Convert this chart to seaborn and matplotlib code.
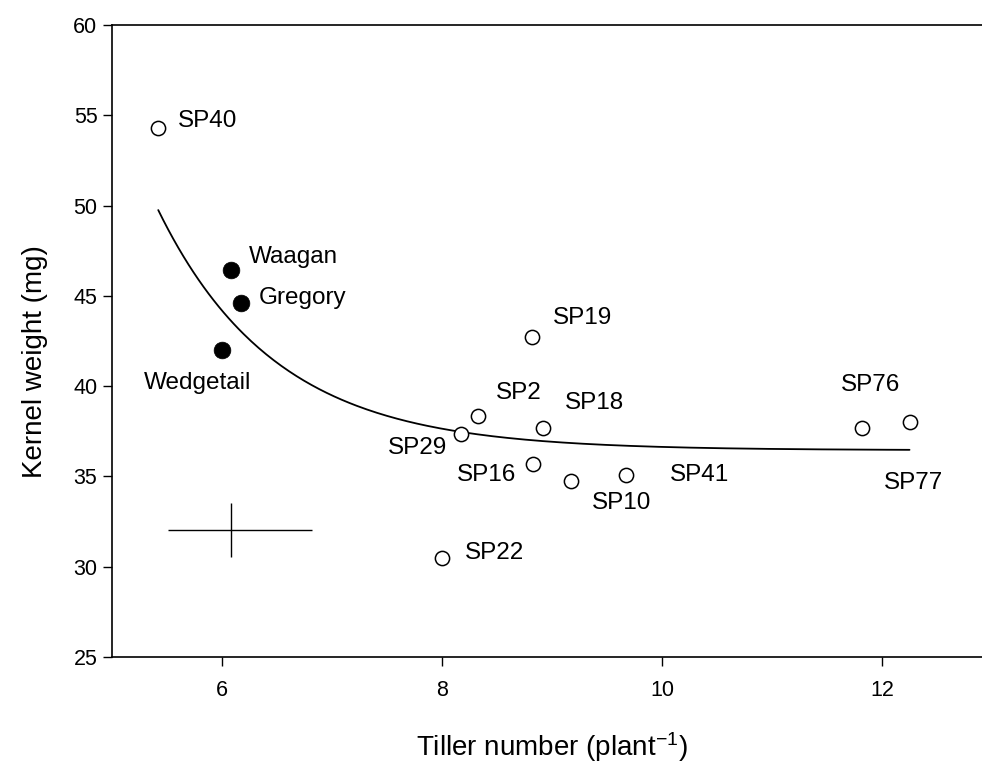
import numpy as np
import pandas as pd
import matplotlib
matplotlib.use("Agg")
import matplotlib.pyplot as plt
import seaborn as sns

# ---- data ----
lines_names = ["SP40", "SP19", "SP2", "SP29", "SP18", "SP16", "SP10", "SP41", "SP22", "SP76", "SP77"]
lines_x = [5.42, 8.82, 8.33, 8.17, 8.92, 8.83, 9.17, 9.67, 8.00, 11.82, 12.25]
lines_y = [54.3, 42.74, 38.35, 37.35, 37.66, 35.67, 34.75, 35.06, 30.5, 37.68, 38.01]

cultivar_names = ["Waagan", "Gregory", "Wedgetail"]
cultivar_x = [6.08, 6.17, 6.00]
cultivar_y = [46.41, 44.62, 42.02]

# label offsets (pixels) of each label relative to its point (left edge, vertical centre)
lines_offsets = [(20, 7), (21, 19), (18, 23), (-73, -14), (22, 25), (-76, -11),
                 (21, -22), (44, 0), (23, 5), (-21, 43), (-26, -61)]
cultivar_offsets = [(18, 13), (18, 5), (-78, -33)]

# fitted exponential decay curve y = a + b*exp(-c*x)
fit_a, fit_b, fit_c = 36.45, 2112.0, 0.935
fit_xmin, fit_xmax = 5.42, 12.25

# pooled error cross position and extents
err_x, err_y = 6.08, 32.05
err_xleft, err_xright = 0.57, 0.74
err_yhalf = 1.5

x_ticks = [6, 8, 10, 12]
y_ticks = [25, 30, 35, 40, 45, 50, 55, 60]

# ---- styling ----
sns.set_theme(style="ticks")
plt.rcParams["font.family"] = ["Liberation Sans", "DejaVu Sans"]
plt.rcParams["mathtext.default"] = "regular"

fig = plt.figure(figsize=(9.82, 7.63), dpi=100)
ax = fig.add_axes([0.1141, 0.1389, 0.8961, 0.8284])

df_lines = pd.DataFrame({"x": lines_x, "y": lines_y, "name": lines_names})
df_cult = pd.DataFrame({"x": cultivar_x, "y": cultivar_y, "name": cultivar_names})

xc = np.linspace(fit_xmin, fit_xmax, 300)
df_fit = pd.DataFrame({"x": xc, "y": fit_a + fit_b * np.exp(-fit_c * xc)})
sns.lineplot(data=df_fit, x="x", y="y", ax=ax, color="black", linewidth=1.3, zorder=2)

sns.scatterplot(data=df_lines, x="x", y="y", ax=ax, s=105, marker="o",
                facecolor="white", edgecolor="black", linewidth=1.1, zorder=3)
sns.scatterplot(data=df_cult, x="x", y="y", ax=ax, s=145, marker="o",
                color="black", edgecolor="black", linewidth=0.5, zorder=3)

ax.errorbar([err_x], [err_y], xerr=[[err_xleft], [err_xright]], yerr=[err_yhalf],
            fmt="none", ecolor="black", elinewidth=1.0, capsize=0)

for n, x, y, (dx, dy) in zip(lines_names, lines_x, lines_y, lines_offsets):
    ax.annotate(n, (x, y), xytext=(dx, dy), textcoords="offset pixels",
                ha="left", va="center", fontsize=17.5, color="black")
for n, x, y, (dx, dy) in zip(cultivar_names, cultivar_x, cultivar_y, cultivar_offsets):
    ax.annotate(n, (x, y), xytext=(dx, dy), textcoords="offset pixels",
                ha="left", va="center", fontsize=17.5, color="black")

ax.set_xlim(5, 13)
ax.set_ylim(25, 60)
ax.set_xticks(x_ticks)
ax.set_yticks(y_ticks)
ax.tick_params(direction="out", length=6.5, width=1.0, labelsize=15.5, color="black",
               labelcolor="black")
ax.tick_params(axis="x", pad=10)
ax.tick_params(axis="y", pad=4)
for s in ax.spines.values():
    s.set_color("black")
    s.set_linewidth(1.2)
ax.spines["right"].set_visible(False)

ax.set_xlabel("Tiller number (plant$^{-1}$)", fontsize=20, color="black")
ax.set_ylabel("Kernel weight (mg)", fontsize=20, color="black")
ax.xaxis.label.set_va("center")
ax.yaxis.label.set_va("center")
ax.xaxis.set_label_coords(0.4994, -0.142)
ax.yaxis.set_label_coords(-0.088, 0.468)

fig.savefig("out.png", dpi=100)
